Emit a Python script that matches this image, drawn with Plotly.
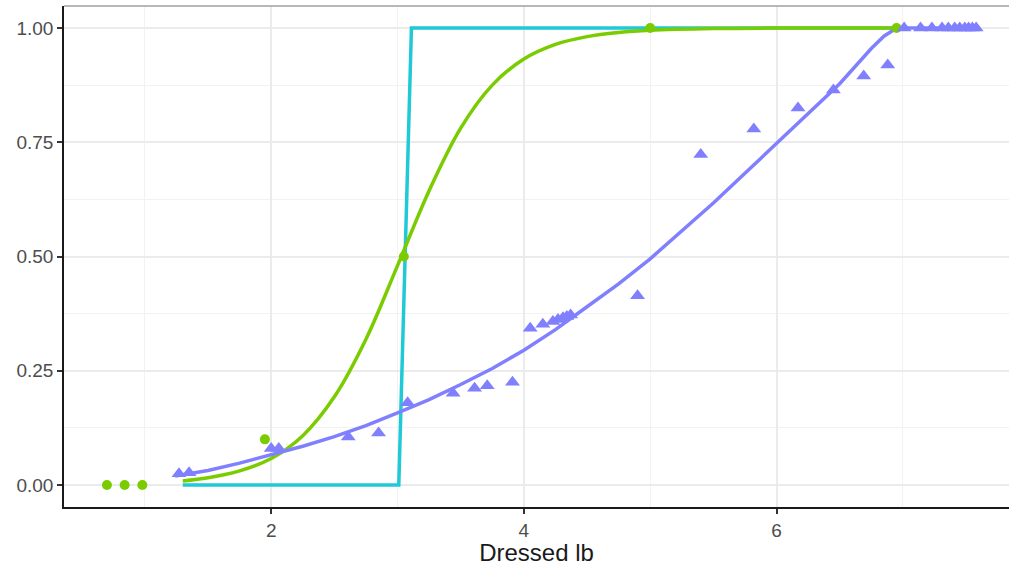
import plotly.graph_objects as go

# ---- data ----
green_pts_x = [0.70, 0.84, 0.98, 1.95, 3.05, 5.00, 6.95]
green_pts_y = [0.0, 0.0, 0.0, 0.10, 0.50, 1.00, 1.00]

green_curve_x = [1.30, 1.50, 1.75, 2.00, 2.25, 2.50, 2.75, 3.00, 3.25, 3.50, 3.75,
                 4.00, 4.25, 4.50, 4.75, 5.00, 5.50, 6.00, 6.50, 6.95]
green_curve_y = [0.009, 0.016, 0.031, 0.058, 0.108, 0.193, 0.319, 0.480, 0.644, 0.781, 0.875,
                 0.932, 0.964, 0.981, 0.990, 0.995, 0.9987, 0.9997, 0.9999, 1.0]

cyan_x = [1.30, 3.01, 3.11, 6.95]
cyan_y = [0.0, 0.0, 1.0, 1.0]

tri_x = [1.27, 1.35, 2.00, 2.06, 2.61, 2.85, 3.08, 3.44, 3.61, 3.71, 3.91,
         4.05, 4.15, 4.23, 4.27, 4.31, 4.34, 4.37, 4.90, 5.40, 5.82, 6.17,
         6.45, 6.69, 6.88, 7.01, 7.14, 7.23, 7.31, 7.36, 7.41, 7.45, 7.49,
         7.52, 7.55, 7.58]
tri_y = [0.025, 0.027, 0.080, 0.080, 0.105, 0.114, 0.180, 0.201, 0.212, 0.217, 0.225,
         0.343, 0.352, 0.358, 0.362, 0.366, 0.369, 0.372, 0.414, 0.723, 0.779, 0.825,
         0.864, 0.895, 0.919, 1.0, 1.0, 1.0, 1.0, 1.0, 1.0, 1.0, 1.0,
         1.0, 1.0, 1.0]

purple_curve_x = [1.24, 1.50, 1.75, 2.00, 2.25, 2.50, 2.75, 3.00, 3.25, 3.50, 3.75,
                  4.00, 4.25, 4.50, 4.75, 5.00, 5.25, 5.50, 5.75, 6.00, 6.25,
                  6.50, 6.75, 6.85, 6.95, 7.58]
purple_curve_y = [0.020, 0.032, 0.048, 0.066, 0.085, 0.106, 0.130, 0.158, 0.187, 0.220, 0.255,
                  0.295, 0.340, 0.390, 0.440, 0.495, 0.555, 0.617, 0.682, 0.748, 0.812,
                  0.878, 0.955, 0.982, 1.0, 1.0]

x_ticks = [2, 4, 6]
y_ticks = [0.0, 0.25, 0.5, 0.75, 1.0]
y_ticktext = ["0.00", "0.25", "0.50", "0.75", "1.00"]
x_title = "Dressed lb"

GREEN = "#7ACC00"
CYAN = "#1FC9D5"
PURPLE = "#8080FF"

fig = go.Figure()
fig.add_trace(go.Scatter(x=cyan_x, y=cyan_y, mode="lines",
                         line=dict(color=CYAN, width=3.5), hoverinfo="skip"))
fig.add_trace(go.Scatter(x=green_curve_x, y=green_curve_y, mode="lines",
                         line=dict(color=GREEN, width=3.5, shape="spline"), hoverinfo="skip"))
fig.add_trace(go.Scatter(x=purple_curve_x, y=purple_curve_y, mode="lines",
                         line=dict(color=PURPLE, width=3.5), hoverinfo="skip"))
fig.add_trace(go.Scatter(x=green_pts_x, y=green_pts_y, mode="markers",
                         marker=dict(color=GREEN, size=10, symbol="circle")))
fig.add_trace(go.Scatter(x=tri_x, y=tri_y, mode="markers",
                         marker=dict(color=PURPLE, size=13, symbol="triangle-up")))

grid_major = "#EBEBEB"
fig.update_layout(
    width=1009, height=566,
    margin=dict(l=64, r=0, t=6, b=59),
    paper_bgcolor="white", plot_bgcolor="white",
    showlegend=False,
    font=dict(family="Liberation Sans, Arial, sans-serif", color="#4D4D4D"),
    xaxis=dict(
        range=[0.36, 7.84], tickvals=x_ticks, ticktext=[str(v) for v in x_ticks],
        showgrid=True, gridcolor=grid_major, gridwidth=1.6,
        minor=dict(dtick=1, tick0=1, showgrid=True, gridcolor="#F2F2F2", gridwidth=1),
        zeroline=False, showline=True, linecolor="#1A1A1A", linewidth=1.5,
        ticks="outside", ticklen=5, tickwidth=1.5, tickcolor="#333333",
        tickfont=dict(size=19, color="#4D4D4D"),
        title=dict(text=x_title, font=dict(size=24, color="#1A1A1A"), standoff=10),
        automargin=False,
    ),
    yaxis=dict(
        range=[-0.048, 1.048], tickvals=y_ticks, ticktext=y_ticktext,
        showgrid=True, gridcolor=grid_major, gridwidth=1.6,
        minor=dict(dtick=0.125, tick0=0.125, showgrid=True, gridcolor="#F2F2F2", gridwidth=1),
        zeroline=False, showline=True, linecolor="#1A1A1A", linewidth=1.5,
        ticks="outside", ticklen=5, tickwidth=1.5, tickcolor="#333333",
        tickfont=dict(size=19, color="#4D4D4D"),
    ),
    shapes=[dict(type="line", xref="paper", yref="paper", x0=0, x1=1, y0=1, y1=1,
                 line=dict(color="#A0A0A0", width=1.5))],
)

fig.write_html("out.html")
